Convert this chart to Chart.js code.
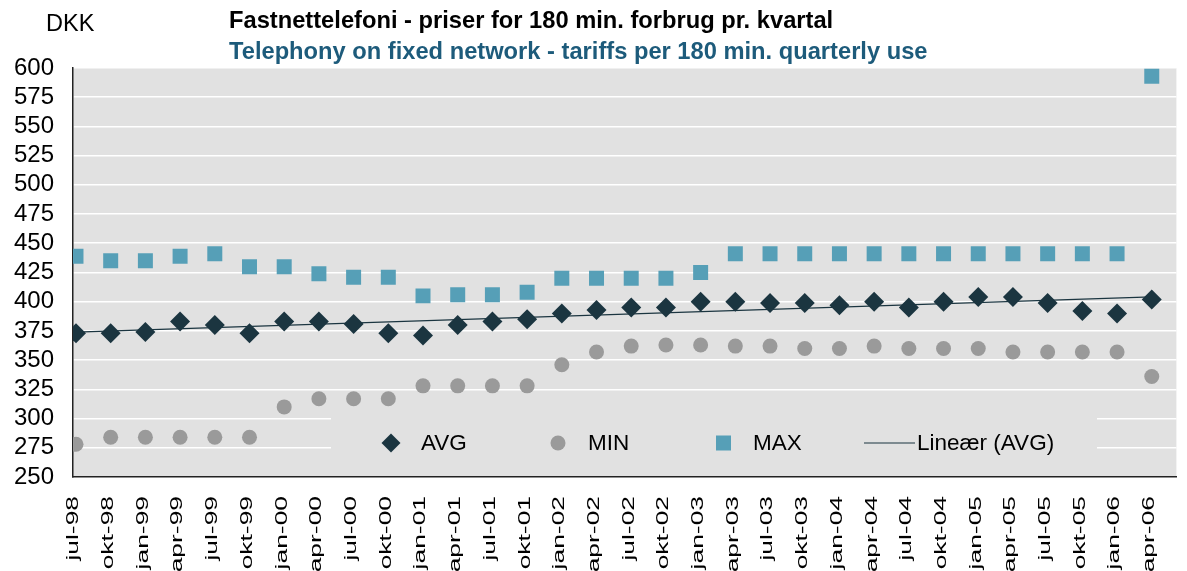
<!DOCTYPE html>
<html>
<head>
<meta charset="utf-8">
<script src="https://cdn.jsdelivr.net/npm/chart.js@4.4.1/dist/chart.umd.min.js"></script>
<style>
  html, body { margin: 0; padding: 0; background: #fff; }
</style>
</head>
<body>
<canvas id="graphicTariffs" width="1187" height="571"></canvas>
<script>
const categories = ['jul-98', 'okt-98', 'jan-99', 'apr-99', 'jul-99', 'okt-99', 'jan-00', 'apr-00',
  'jul-00', 'okt-00', 'jan-01', 'apr-01', 'jul-01', 'okt-01', 'jan-02', 'apr-02', 'jul-02', 'okt-02',
  'jan-03', 'apr-03', 'jul-03', 'okt-03', 'jan-04', 'apr-04', 'jul-04', 'okt-04', 'jan-05', 'apr-05',
  'jul-05', 'okt-05', 'jan-06', 'apr-06'];

const avgValues = [373, 373, 374, 383, 380, 373, 383, 383, 381, 373, 371, 380, 383, 385, 390, 393,
  395, 395, 400, 400, 399, 399, 397, 400, 395, 400, 404, 404, 399, 392, 390, 402];

const minValues = [278, 284, 284, 284, 284, 284, 310, 317, 317, 317, 328, 328, 328, 328, 346, 357,
  362, 363, 363, 362, 362, 360, 360, 362, 360, 360, 360, 357, 357, 357, 357, 336];

const maxValues = [439, 435, 435, 439, 441, 430, 430, 424, 421, 421, 405, 406, 406, 408, 420, 420,
  420, 420, 425, 441, 441, 441, 441, 441, 441, 441, 441, 441, 441, 441, 441, 593];

const seriesNames = ['AVG', 'MIN', 'MAX', 'Lineær (AVG)'];
const yMin = 250, yMax = 600, yStep = 25;

const FONT = '"Liberation Sans", Arial, sans-serif';
const colAvg = '#1b3540';
const colMin = '#9a9a9a';
const colMax = '#569fb7';
const plotBg = '#e1e1e1';

// lineær trend (mindste kvadraters metode) på AVG
const n = avgValues.length;
const meanX = (n - 1) / 2;
const meanY = avgValues.reduce((a, b) => a + b, 0) / n;
let sxy = 0, sxx = 0;
avgValues.forEach((v, i) => { sxy += (i - meanX) * (v - meanY); sxx += (i - meanX) * (i - meanX); });
const slope = sxy / sxx;
const intercept = meanY - slope * meanX;
const trendPoints = [0, n - 1].map(i => ({ x: i, y: intercept + slope * i }));

const toXY = arr => arr.map((v, i) => ({ x: i, y: v }));

// baggrund i plotområdet
const plotBackground = {
  id: 'plotBackground',
  beforeDraw(chart) {
    const { ctx, chartArea: a } = chart;
    ctx.save();
    ctx.fillStyle = plotBg;
    ctx.fillRect(a.left, a.top, a.right - a.left, a.bottom - a.top);
    ctx.restore();
  }
};

// forklaring inde i plottet, tegnet over gitterlinjerne
const innerLegend = {
  id: 'innerLegend',
  beforeDatasetsDraw(chart) {
    const { ctx, chartArea: a } = chart;
    const y = 443;
    ctx.save();
    ctx.fillStyle = plotBg;
    ctx.fillRect(331, 404, 1097 - 331, a.bottom - 404 - 1);

    // AVG
    ctx.fillStyle = colAvg;
    ctx.beginPath();
    ctx.moveTo(391, y - 9.5); ctx.lineTo(400.5, y); ctx.lineTo(391, y + 9.5); ctx.lineTo(381.5, y);
    ctx.closePath(); ctx.fill();
    // MIN
    ctx.fillStyle = colMin;
    ctx.beginPath(); ctx.arc(558, y, 7.5, 0, Math.PI * 2); ctx.fill();
    // MAX
    ctx.fillStyle = colMax;
    ctx.fillRect(716, y - 7.5, 15, 15);
    // trend
    ctx.strokeStyle = colAvg; ctx.lineWidth = 1.2;
    ctx.beginPath(); ctx.moveTo(864, y); ctx.lineTo(915, y); ctx.stroke();

    ctx.fillStyle = '#000';
    ctx.font = '22.5px ' + FONT;
    ctx.textBaseline = 'alphabetic';
    ctx.textAlign = 'left';
    ctx.fillText(seriesNames[0], 421, 450);
    ctx.fillText(seriesNames[1], 588, 450);
    ctx.fillText(seriesNames[2], 753, 450);
    ctx.fillText(seriesNames[3], 917, 450);
    ctx.restore();
  }
};

// titler og kategoritekster
const texts = {
  id: 'texts',
  afterDraw(chart) {
    const { ctx } = chart;
    const xs = chart.scales.x;
    ctx.save();
    ctx.fillStyle = '#000';
    ctx.font = '23.5px ' + FONT;
    ctx.fillText('DKK', 46, 31);
    ctx.font = 'bold 23.7px ' + FONT;
    ctx.fillText('Fastnettelefoni - priser for 180 min. forbrug pr. kvartal', 229, 28);
    ctx.fillStyle = '#1d5b7b';
    ctx.fillText('Telephony on fixed network - tariffs per 180 min. quarterly use', 229, 59);

    ctx.fillStyle = '#000';
    ctx.font = '16px ' + FONT;
    ctx.textAlign = 'right';
    ctx.textBaseline = 'middle';
    categories.forEach((lab, i) => {
      ctx.save();
      ctx.translate(xs.getPixelForValue(i) - 2, 496);
      ctx.rotate(-Math.PI / 2);
      ctx.scale(1.65, 1);
      ctx.fillText(lab, 0, 0);
      ctx.restore();
    });
    ctx.restore();
  }
};

const tariffChart = document.getElementById('graphicTariffs');

new Chart(tariffChart, {
  type: 'scatter',
  data: {
    datasets: [
      {
        label: seriesNames[0],
        data: toXY(avgValues),
        pointStyle: 'rectRot',
        pointRadius: 10,
        backgroundColor: colAvg,
        borderColor: colAvg,
        borderWidth: 0
      },
      {
        label: seriesNames[1],
        data: toXY(minValues),
        pointStyle: 'circle',
        pointRadius: 7.5,
        backgroundColor: colMin,
        borderColor: colMin,
        borderWidth: 0
      },
      {
        label: seriesNames[2],
        data: toXY(maxValues),
        pointStyle: 'rect',
        pointRadius: 10.6,
        backgroundColor: colMax,
        borderColor: colMax,
        borderWidth: 0
      },
      {
        label: seriesNames[3],
        data: trendPoints,
        showLine: true,
        pointRadius: 0,
        borderColor: colAvg,
        borderWidth: 1.2
      }
    ]
  },
  options: {
    responsive: false,
    animation: false,
    layout: { padding: { top: 68, left: 0, right: 0, bottom: 0 } },
    plugins: {
      legend: { display: false },
      tooltip: { enabled: false }
    },
    scales: {
      x: {
        type: 'linear',
        min: -0.086,
        max: 31.71,
        ticks: { display: false, stepSize: 1 },
        grid: { display: false },
        border: { display: true, color: '#222', width: 1.5 },
        afterFit(scale) { scale.height = 94; }
      },
      y: {
        min: yMin,
        max: yMax,
        ticks: {
          stepSize: yStep,
          autoSkip: false,
          color: '#000',
          padding: 19,
          font: { family: FONT, size: 24 }
        },
        grid: { color: '#ffffff', lineWidth: 1.6, drawTicks: false },
        border: { display: true, color: '#222', width: 1.5 },
        afterFit(scale) { scale.width = 73; }
      }
    }
  },
  plugins: [plotBackground, innerLegend, texts]
});
</script>
</body>
</html>
